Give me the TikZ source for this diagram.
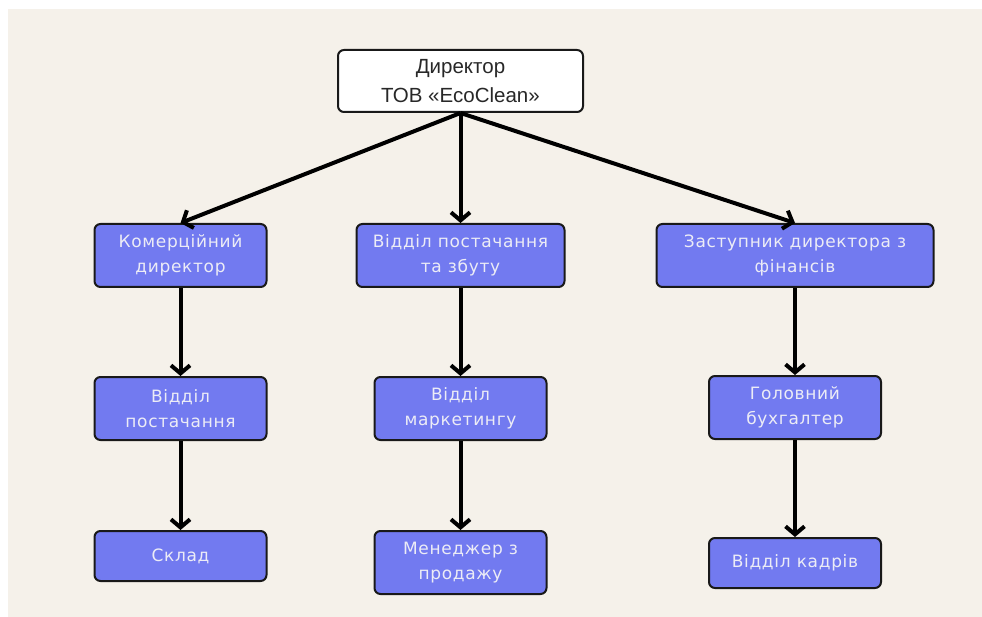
\documentclass[tikz,border=0pt]{standalone}
\usepackage{fontspec}
\setmainfont[LetterSpace=4]{DejaVu Sans}
\newfontfamily\dirfont{Liberation Sans}
\usepackage{xcolor}
\usepackage{tikz}
\usetikzlibrary{arrows.meta, positioning}

\definecolor{paper}{RGB}{245,241,234}
\definecolor{boxblue}{RGB}{114,122,240}
\definecolor{boxtext}{RGB}{236,236,246}
\definecolor{dirtext}{RGB}{40,40,40}

\begin{document}
\begin{tikzpicture}[
  x=1pt, y=-1pt,
  unit/.style={draw=black!90, line width=2pt, rounded corners=6pt, fill=boxblue, text=boxtext,
    minimum width=172pt, minimum height=63pt, align=center, inner sep=4pt,
    font=\fontsize{17pt}{25pt}\selectfont},
  small/.style={unit, minimum height=50pt},
  head/.style={draw=black!90, line width=2pt, rounded corners=6pt, fill=white, text=dirtext,
    minimum width=245pt, minimum height=62pt, align=center,
    font=\dirfont\fontsize{20.5pt}{29pt}\selectfont},
  ar/.style={-{Straight Barb[length=8pt, width=19pt]}, line width=4pt, black}
]
\useasboundingbox (0,0) rectangle (982,617);
\fill[paper] (8,9) rectangle (982,617);

\node[head] (dir) at (460.5,81) {Директор\\ТОВ «EcoClean»};

\node[unit, minimum width=208pt, below=110pt of dir] (vps) {Відділ постачання\\та збуту};
\node[unit, left=88pt of vps] (kom) {Комерційний\\директор};
\node[unit, minimum width=277pt, right=90pt of vps] (zast) {Заступник директора з\\фінансів};

\node[unit, below=88pt of kom] (vp) {Відділ\\постачання};
\node[unit, below=88pt of vps] (vm) {Відділ\\маркетингу};
\node[unit, below=87pt of zast] (gb) {Головний\\бухгалтер};

\node[small, below=89pt of vp] (sklad) {Склад};
\node[unit, below=89pt of vm] (men) {Менеджер з\\продажу};
\node[small, below=97pt of gb] (kadry) {Відділ кадрів};

\foreach \a/\b in {dir/kom, dir/vps, dir/zast, kom/vp, vp/sklad, vps/vm, vm/men, zast/gb, gb/kadry}{\draw[ar] (\a.south) -- (\b.north);}
\end{tikzpicture}
\end{document}
